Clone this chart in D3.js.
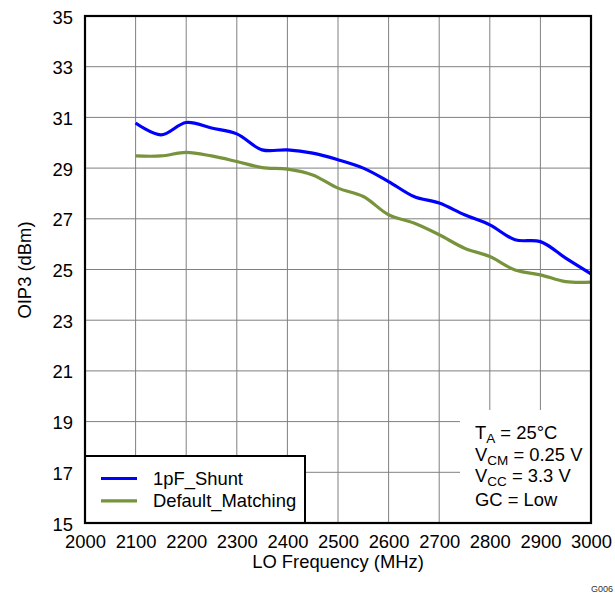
<!DOCTYPE html>
<html><head><meta charset="utf-8">
<script src="https://cdn.jsdelivr.net/npm/d3@7"></script>
<style>body{margin:0;background:#fff}svg{display:block}text{font-family:"Liberation Sans",Arial,sans-serif}</style>
</head><body><svg id="c" width="615" height="594"></svg>
<script>
const freqs = [2100,2150,2200,2250,2300,2350,2400,2450,2500,2550,2600,2650,2700,2750,2800,2850,2900,2950,3000];
const shunt = [30.78,30.31,30.80,30.58,30.35,29.72,29.72,29.59,29.33,29.0,28.47,27.88,27.62,27.16,26.76,26.17,26.10,25.45,24.83];
const defaultMatching = [29.48,29.48,29.62,29.48,29.26,29.02,28.96,28.73,28.21,27.88,27.16,26.83,26.37,25.84,25.51,24.98,24.79,24.52,24.50];
const xTicks = [2000,2100,2200,2300,2400,2500,2600,2700,2800,2900,3000];
const yTicks = [15,17,19,21,23,25,27,29,31,33,35];
const seriesNames = ["1pF_Shunt","Default_Matching"];
const colors = ["#0000FF","#77933C"];

const FS = 18.4;
const svg = d3.select("#c");
const L=85, R=591, T=16, B=523;
const x = d3.scaleLinear().domain([2000,3000]).range([L,R]);
const y = d3.scaleLinear().domain([15,35]).range([B,T]);

// grid
const g = svg.append("g");
g.selectAll(".vx").data(xTicks.slice(1,-1)).enter().append("line")
  .attr("x1",d=>x(d)).attr("x2",d=>x(d)).attr("y1",T).attr("y2",B)
  .attr("stroke","#808080").attr("stroke-width",1);
g.selectAll(".hy").data(yTicks.slice(1,-1)).enter().append("line")
  .attr("y1",d=>y(d)).attr("y2",d=>y(d)).attr("x1",L).attr("x2",R)
  .attr("stroke","#808080").attr("stroke-width",1);

// axes labels
const xAxis = d3.axisBottom(x).tickValues(xTicks).tickSize(0).tickPadding(0).tickFormat(d3.format("d"));
const xa = svg.append("g").attr("transform",`translate(0,${B})`).call(xAxis);
xa.select(".domain").remove();
xa.selectAll("text").attr("font-size",FS).attr("fill","#000").attr("font-family","Liberation Sans, Arial, sans-serif")
  .attr("y",24.5).attr("dy",0);
const yAxis = d3.axisLeft(y).tickValues(yTicks).tickSize(0).tickPadding(12);
const ya = svg.append("g").attr("transform",`translate(${L},0)`).call(yAxis);
ya.select(".domain").remove();
ya.selectAll("text").attr("font-size",FS).attr("fill","#000").attr("font-family","Liberation Sans, Arial, sans-serif")
  .attr("dy","0.38em");

svg.append("text").attr("x",(L+R)/2).attr("y",568).attr("text-anchor","middle").attr("font-size",FS).text("LO Frequency (MHz)");
svg.append("text").attr("transform","translate(31,270) rotate(-90)").attr("text-anchor","middle").attr("font-size",FS).text("OIP3 (dBm)");
svg.append("text").attr("x",613).attr("y",592).attr("text-anchor","end").attr("font-size",9).attr("fill","#333").text("G006");

// lines
const line = d3.line().x((d,i)=>x(freqs[i])).y(d=>y(d)).curve(d3.curveCatmullRom.alpha(0.5));
[shunt, defaultMatching].forEach((s,k)=>{
  svg.append("path").datum(s).attr("d",line).attr("fill","none")
    .attr("stroke",colors[k]).attr("stroke-width",3.2).attr("stroke-linejoin","round");
});

// annotation background
svg.append("rect").attr("x",460).attr("y",410).attr("width",R-460).attr("height",B-410).attr("fill","#fff");
const annLines = [["T","A"," = 25°C"],["V","CM"," = 0.25 V"],["V","CC"," = 3.3 V"],["GC = Low","",""]];
const annY = [438.5,460.5,482,506];
annLines.forEach((a,i)=>{
  const t = svg.append("text").attr("x",475).attr("y",annY[i]).attr("font-size",FS);
  t.append("tspan").text(a[0]);
  if(a[1]){ t.append("tspan").attr("font-size",13.5).attr("dy",4).text(a[1]);
            t.append("tspan").attr("dy",-4).text(a[2]); }
});

// legend
svg.append("rect").attr("x",L).attr("y",456).attr("width",220).attr("height",B-456)
  .attr("fill","#fff").attr("stroke","#000").attr("stroke-width",2);
seriesNames.forEach((n,i)=>{
  const yy = 478.5+i*22.3;
  svg.append("line").attr("x1",101).attr("x2",137).attr("y1",yy).attr("y2",yy)
    .attr("stroke",colors[i]).attr("stroke-width",3.2);
  svg.append("text").attr("x",153).attr("y",yy+6.5).attr("font-size",FS).text(n);
});

// border
svg.append("rect").attr("x",L).attr("y",T).attr("width",R-L).attr("height",B-T)
  .attr("fill","none").attr("stroke","#000").attr("stroke-width",2.2);
</script></body></html>
